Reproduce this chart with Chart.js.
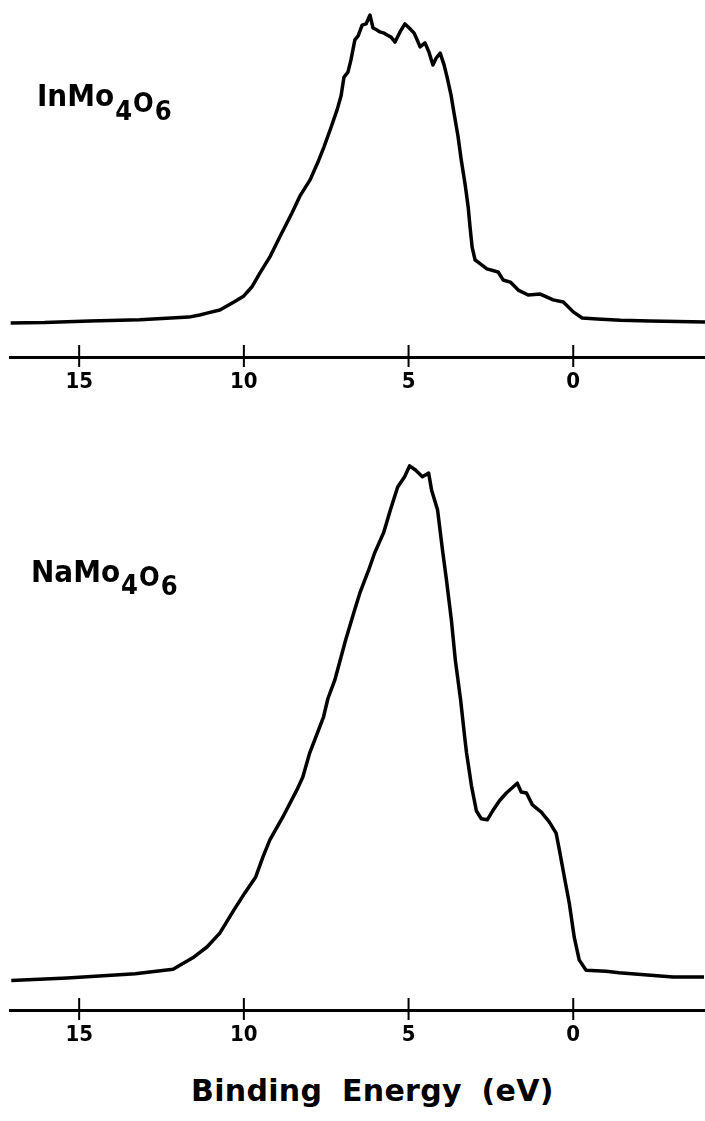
<!DOCTYPE html>
<html>
<head>
<meta charset="utf-8">
<script src="https://cdn.jsdelivr.net/npm/chart.js@4.4.1/dist/chart.umd.min.js"></script>
<style>
  body { margin: 0; background: #fff; width: 705px; height: 1121px; position: relative; overflow: hidden; }
  canvas { position: absolute; left: 0; }
  #topChart { top: 0; }
  #bottomChart { top: 400px; }
  #xTitle {
    position: absolute; left: 191px; top: 1073px;
    font: bold 30px "DejaVu Sans", sans-serif; letter-spacing: 0.3px; word-spacing: 9px;
    color: #000; white-space: nowrap;
  }
</style>
</head>
<body>
<canvas id="topChart" width="705" height="400"></canvas>
<canvas id="bottomChart" width="705" height="660"></canvas>
<div id="xTitle">Binding Energy (eV)</div>
<script>
// binding energy (eV) and intensity (peak = 100) for each spectrum
const inEnergy = [17.08, 16.05, 14.68, 13.16, 11.67, 11.34, 11.12, 10.73, 10.30, 10.00,
  9.76, 9.51, 9.21, 8.91, 8.54, 8.30, 7.99, 7.75, 7.57, 7.36,
  7.17, 7.05, 6.96, 6.84, 6.75, 6.63, 6.53, 6.41, 6.29, 6.17,
  6.08, 5.96, 5.87, 5.74, 5.65, 5.53, 5.41, 5.26, 5.11, 4.98,
  4.83, 4.71, 4.65, 4.50, 4.38, 4.26, 4.16, 4.04, 3.92, 3.83,
  3.71, 3.62, 3.50, 3.40, 3.28, 3.19, 3.13, 3.07, 2.98, 2.89,
  2.62, 2.28, 2.13, 1.91, 1.67, 1.37, 1.00, 0.61, 0.30, 0.00,
  -0.27, -0.73, -1.43, -2.34, -4.01];
const inCounts = [-0.3, -0.2, 0.3, 0.7, 1.6, 2.3, 2.9, 3.9, 6.5, 8.5,
  11.4, 16.0, 21.2, 27.7, 35.5, 41.0, 46.3, 52.1, 57.0, 63.2,
  69.1, 73.6, 79.8, 81.4, 85.3, 91.9, 93.2, 96.7, 97.1, 100,
  95.8, 95.1, 94.5, 94.1, 93.5, 92.8, 91.2, 94.5, 97.1, 95.8,
  94.1, 91.2, 89.6, 90.9, 87.9, 83.7, 86.0, 87.6, 83.7, 79.8,
  73.9, 68.1, 60.6, 52.8, 44.6, 37.5, 30.6, 24.4, 20.2, 19.5,
  17.3, 16.3, 13.7, 13.0, 10.4, 8.8, 9.1, 7.2, 6.5, 3.3,
  1.3, 1.0, 0.6, 0.3, 0];

const naEnergy = [17.06, 15.36, 13.30, 12.15, 11.55, 11.12, 10.73, 10.30, 9.97, 9.64,
  9.42, 9.21, 8.82, 8.39, 8.21, 8.00, 7.79, 7.58, 7.45, 7.24,
  6.91, 6.64, 6.48, 6.21, 6.03, 5.76, 5.55, 5.33, 5.12, 4.97,
  4.79, 4.58, 4.39, 4.30, 4.12, 3.97, 3.85, 3.70, 3.58, 3.42,
  3.30, 3.24, 3.09, 2.94, 2.79, 2.61, 2.45, 2.24, 2.03, 1.70,
  1.58, 1.42, 1.24, 0.97, 0.73, 0.52, 0.42, 0.27, 0.12, -0.03,
  -0.18, -0.39, -1.00, -1.39, -3.03, -3.97];
const naCounts = [0.1, 0.6, 1.4, 2.3, 4.5, 6.6, 9.3, 13.8, 17.1, 20.2,
  24.1, 27.4, 31.8, 37.1, 39.6, 44.3, 47.8, 51.3, 54.8, 58.4,
  66.2, 72.0, 75.3, 79.8, 83.1, 87.0, 91.5, 95.9, 97.9, 100,
  99.2, 97.9, 98.6, 95.3, 91.5, 83.7, 77.9, 70.1, 62.3, 54.6,
  47.6, 44.3, 37.9, 33.0, 31.5, 31.3, 33.0, 35.0, 36.5, 38.4,
  36.7, 36.5, 34.2, 32.8, 30.9, 28.7, 25.4, 20.2, 15.1, 8.5,
  4.1, 2.1, 1.9, 1.6, 0.8, 0.8];

const tickValues = [15, 10, 5, 0];

// tick marks that cross the axis line, above and below
const crossTicks = {
  id: 'crossTicks',
  afterDraw(chart) {
    const { ctx } = chart;
    const xs = chart.scales.x;
    const y0 = chart.chartArea.bottom;
    ctx.save();
    ctx.strokeStyle = '#000';
    ctx.lineWidth = 2;
    tickValues.forEach(v => {
      const px = xs.getPixelForValue(v);
      ctx.beginPath();
      ctx.moveTo(px, y0 - 12);
      ctx.lineTo(px, y0 + 10);
      ctx.stroke();
    });
    ctx.restore();
  }
};

// compound name with subscripts, e.g. InMo4O6
const formula = {
  id: 'formula',
  afterDraw(chart, args, opts) {
    const { ctx } = chart;
    let x = opts.x;
    ctx.save();
    ctx.fillStyle = '#000';
    ctx.textBaseline = 'alphabetic';
    opts.parts.forEach(([txt, size, dy]) => {
      ctx.font = `bold ${size}px "DejaVu Sans Condensed", "DejaVu Sans", sans-serif`;
      ctx.fillText(txt, x, opts.y + dy);
      x += ctx.measureText(txt).width + 1;
    });
    ctx.restore();
  }
};

function makeSpectrum(id, energy, counts, yMin, yMax, axisHeight, label) {
  return new Chart(document.getElementById(id), {
    type: 'line',
    data: {
      datasets: [{
        data: energy.map((e, i) => ({ x: e, y: counts[i] })),
        borderColor: '#000',
        borderWidth: 3.5,
        pointRadius: 0,
        tension: 0,
        borderJoinStyle: 'round',
        fill: false
      }]
    },
    options: {
      responsive: false,
      animation: false,
      layout: { padding: { left: 10, right: 0, top: 0, bottom: 0 } },
      plugins: {
        legend: { display: false },
        tooltip: { enabled: false },
        formula: label
      },
      scales: {
        x: {
          type: 'linear',
          reverse: true,
          min: -4.0,
          max: 17.1,
          afterBuildTicks: s => { s.ticks = tickValues.map(v => ({ value: v })); },
          afterFit: s => { s.height = axisHeight; },
          grid: { display: true, drawOnChartArea: false, drawTicks: false },
          border: { display: true, color: '#000', width: 3 },
          ticks: {
            color: '#000',
            padding: 12,
            maxRotation: 0,
            font: { family: '"DejaVu Sans Condensed", "DejaVu Sans", sans-serif', size: 22, weight: 'bold' }
          }
        },
        y: { display: false, min: yMin, max: yMax }
      }
    },
    plugins: [crossTicks, formula]
  });
}

makeSpectrum('topChart', inEnergy, inCounts, -11.4, 104.9, 43, {
  x: 37, y: 106,
  parts: [['InMo', 31, 0], ['4', 27, 14], ['O', 27, 6], ['6', 27, 14]]
});

makeSpectrum('bottomChart', naEnergy, naCounts, -5.63, 112.8, 50, {
  x: 31, y: 182,
  parts: [['NaMo', 31, 0], ['4', 27, 12], ['O', 27, 4], ['6', 27, 13]]
});
</script>
</body>
</html>
